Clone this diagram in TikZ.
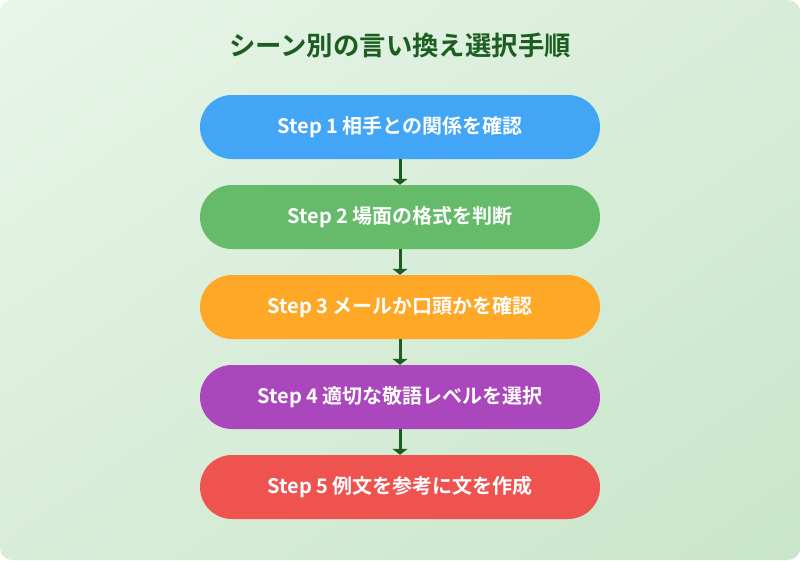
\documentclass[tikz,border=0pt]{standalone}
\usepackage{fontspec}
\setmainfont{Noto Sans CJK JP}[BoldFont={Noto Sans CJK JP Bold}]
\usetikzlibrary{arrows.meta,shadings}
\definecolor{bgA}{HTML}{E8F5E9}
\definecolor{bgB}{HTML}{C8E6C9}
\definecolor{bgM}{HTML}{D8EDD9}
\definecolor{titlec}{HTML}{1B5E20}
\definecolor{c1}{HTML}{42A5F5}
\definecolor{c2}{HTML}{66BB6A}
\definecolor{c3}{HTML}{FFA726}
\definecolor{c4}{HTML}{AB47BC}
\definecolor{c5}{HTML}{EF5350}
\newcommand{\stp}[1]{Step #1\hspace{4pt}}
\tikzset{
  stepbox/.style={rectangle, rounded corners=32pt, minimum width=400pt, minimum height=64pt, inner sep=0pt, text=white, font=\fontsize{20pt}{22pt}\selectfont\bfseries},
  flowarrow/.style={draw=titlec, line width=3pt, -{Triangle[length=6pt,width=15pt]}}
}
\begin{document}
\begin{tikzpicture}[x=1pt,y=-1pt]
\useasboundingbox (0,0) rectangle (800,560);
\fill[white] (0,0) rectangle (800,560);
\shade[rounded corners=12pt, upper left=bgA, lower right=bgB, upper right=bgM, lower left=bgM] (0,0) rectangle (800,560);
\node[text=titlec, font=\fontsize{26.4pt}{28pt}\selectfont\bfseries] (title) at (400,45) {シーン別の言い換え選択手順};
\node[stepbox, fill=c1] (s1) at (400,127) {\stp{1}相手との関係を確認};
\node[stepbox, fill=c2] (s2) at (400,217) {\stp{2}場面の格式を判断};
\node[stepbox, fill=c3] (s3) at (400,307) {\stp{3}メールか口頭かを確認};
\node[stepbox, fill=c4] (s4) at (400,397) {\stp{4}適切な敬語レベルを選択};
\node[stepbox, fill=c5] (s5) at (400,487) {\stp{5}例文を参考に文を作成};
\draw[flowarrow] (s1.south) -- (s2.north);
\draw[flowarrow] (s2.south) -- (s3.north);
\draw[flowarrow] (s3.south) -- (s4.north);
\draw[flowarrow] (s4.south) -- (s5.north);
\end{tikzpicture}
\end{document}
